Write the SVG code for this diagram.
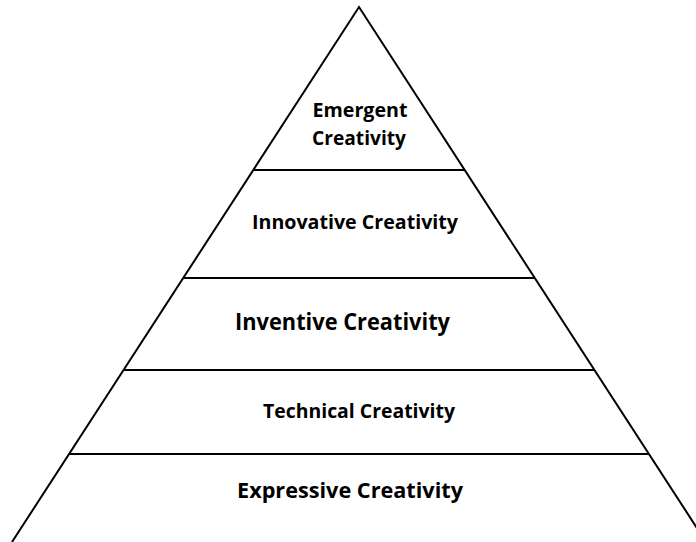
<svg xmlns="http://www.w3.org/2000/svg" width="696" height="542" viewBox="0 0 696 542">
  <style>
    .edge { stroke: #000; stroke-width: 2; fill: none; }
    .label { font-family: "Open Sans", "Noto Sans", "Liberation Sans", sans-serif; font-weight: bold; fill: #000; text-anchor: middle; }
  </style>
  <rect x="0" y="0" width="696" height="542" fill="#fff"/>
  <!-- outline and tier dividers -->
  <g id="connectors">
    <polyline class="edge" points="12,542 359,7 706,542"/>
    <line class="edge" x1="253" y1="170" x2="465" y2="170"/>
    <line class="edge" x1="183" y1="278" x2="535" y2="278"/>
    <line class="edge" x1="123" y1="370" x2="595" y2="370"/>
    <line class="edge" x1="69" y1="454" x2="649" y2="454"/>
  </g>
  <g id="tier-emergent">
    <text class="label" x="360" y="117" font-size="19" textLength="95" lengthAdjust="spacingAndGlyphs">Emergent</text>
    <text class="label" x="359" y="145" font-size="19" textLength="94" lengthAdjust="spacingAndGlyphs">Creativity</text>
  </g>
  <g id="tier-innovative">
    <text class="label" x="355" y="229" font-size="20" textLength="206" lengthAdjust="spacingAndGlyphs">Innovative Creativity</text>
  </g>
  <g id="tier-inventive">
    <text class="label" x="342.5" y="330" font-size="23" textLength="215" lengthAdjust="spacingAndGlyphs">Inventive Creativity</text>
  </g>
  <g id="tier-technical">
    <text class="label" x="359" y="418" font-size="20" textLength="192" lengthAdjust="spacingAndGlyphs">Technical Creativity</text>
  </g>
  <g id="tier-expressive">
    <text class="label" x="350" y="498" font-size="22" textLength="226" lengthAdjust="spacingAndGlyphs">Expressive Creativity</text>
  </g>
</svg>
